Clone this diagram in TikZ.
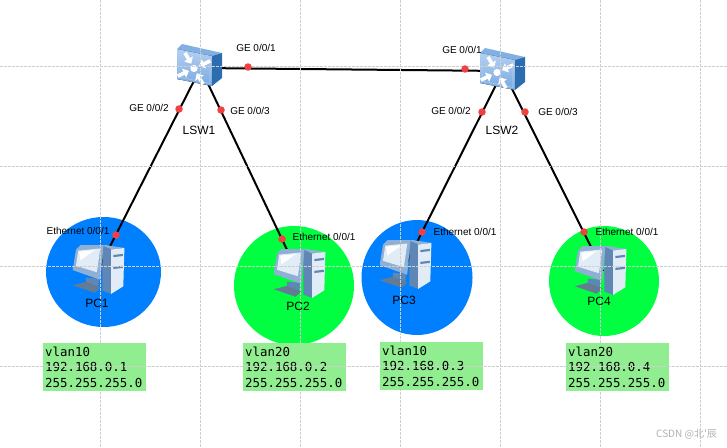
\documentclass[tikz,border=0pt]{standalone}
\usepackage{fontspec}
\setmainfont{Liberation Sans}
\newfontfamily\monof{DejaVu Sans Mono}
\newfontfamily\cjkf{Noto Sans CJK SC}
\usetikzlibrary{calc}
\definecolor{vblue}{HTML}{0080FF}
\definecolor{vgreen}{HTML}{00FF40}
\definecolor{boxg}{HTML}{90EE90}
\definecolor{gridc}{HTML}{CFCFCF}
\definecolor{dotr}{HTML}{F04040}
\definecolor{swfa}{HTML}{B4D0F2}
\definecolor{swfb}{HTML}{78A8E0}
\definecolor{swtop}{HTML}{80B0E6}
\definecolor{swside}{HTML}{2C6CB0}
\definecolor{pcdark}{HTML}{5F86B4}
\definecolor{pcmid}{HTML}{8FB0D4}
\definecolor{pclight}{HTML}{E2ECF6}
\tikzset{
  x=1pt,y=-1pt,
  gridline/.style={gridc,line width=0.8pt,dash pattern=on 3pt off 1pt},
  link/.style={black,line width=2pt},
  port/.style={circle,fill=dotr,inner sep=0pt,minimum size=7.5pt},
  lab/.style={font=\fontsize{10}{12}\selectfont,inner sep=0pt},
  devlab/.style={font=\fontsize{12}{14}\selectfont,inner sep=0pt},
  infobox/.style={fill=boxg,anchor=north west,minimum width=103pt,minimum height=48pt,inner sep=0pt,
     text width=99pt,align=left,font=\monof\fontsize{12.4}{15.5}\selectfont},
  anchorpt/.style={inner sep=0pt,minimum size=0pt},
  pics/swicon/.style={code={
    \fill[swtop] (-22,-19) -- (-17,-24) -- (23,-15) -- (13,-12) -- cycle;
    \fill[swside] (13,-12) -- (23,-15) -- (23,10) -- (13,18) -- cycle;
    \fill[top color=swfa,bottom color=swfb] (-22,-19) -- (13,-12) -- (13,18) -- (-22,11) -- cycle;
    \draw[swfb!60!white,line width=0.6pt] (-20,-16.5) -- (11,-10) -- (11,15.5) -- (-20,9) -- cycle;
    \fill[white] (-5,0.5) circle (3.6);
    \foreach \ang in {25,120,205,300}{
      \begin{scope}[shift={(-5,0.5)},rotate=\ang]
        \fill[white] (5.5,0) -- (11,-5) -- (11,-1.8) -- (18,-1.8) -- (18,1.8) -- (11,1.8) -- (11,5) -- cycle;
      \end{scope}}
  }},
  pics/pcicon/.style={code={
    % tower
    \fill[pcdark] (4,-22) -- (12,-18) -- (12,23) -- (4,20) -- cycle;
    \fill[pcmid] (4,-22) -- (8,-22) -- (24,-19.5) -- (12,-18) -- cycle;
    \fill[pclight] (12,-18) -- (24,-19.5) -- (23,16) -- (12,23) -- cycle;
    \fill[pcdark] (14,-13) -- (22.5,-14) -- (22.5,-12) -- (14,-11) -- cycle;
    \fill[pcdark] (14,-2) -- (22.5,-3) -- (22.5,-1) -- (14,0) -- cycle;
    % base
    \fill[pcdark] (-11,8) -- (1,9) -- (0,20) -- (-11,15) -- cycle;
    \fill[pcmid!70!black] (-23,15) -- (-11,12) -- (2,17) -- (-3,22) -- cycle;
    % monitor
    \fill[pcmid] (-20,-18) -- (-16,-22) -- (5,-22) -- (2,10) -- (-23,1) -- cycle;
    \fill[pclight] (-18,-17) -- (2,-19) -- (-1,3) -- (-20,-3) -- cycle;
    \fill[white] (-17,-16) -- (-3,-17.5) -- (-16,-8) -- cycle;
  }}
}
\begin{document}
\begin{tikzpicture}
\useasboundingbox (0,0) rectangle (727,447);
\fill[white] (0,0) rectangle (727,447);
% circles
\fill[vblue] (103.5,272) ellipse [x radius=57.5,y radius=55];
\fill[vgreen] (294,285.5) ellipse [x radius=60,y radius=59.5];
\fill[vblue] (417,277.5) ellipse [x radius=55.5,y radius=57.5];
\fill[vgreen] (604,281) ellipse [x radius=55,y radius=55];
% anchors of devices
\node[anchorpt] (sw1) at (200.5,68) {};
\node[anchorpt] (sw2) at (503,71) {};
\node[anchorpt] (pc1) at (98,270) {};
\node[anchorpt] (pc2) at (299,275) {};
\node[anchorpt] (pc3) at (405.5,265) {};
\node[anchorpt] (pc4) at (603,271) {};
% links
\draw[link] (sw1.center) -- (sw2.center);
\draw[link] (sw1.center) -- (pc1.center);
\draw[link] (sw1.center) -- (pc2.center);
\draw[link] (sw2.center) -- (pc3.center);
\draw[link] (sw2.center) -- (pc4.center);
% icons
\pic at (199,68) {swicon};
\pic at (502,72) {swicon};
\pic[xscale=1.1,yscale=1.08] at (98,269) {pcicon};
\pic[xscale=1.1,yscale=1.08] at (299,273) {pcicon};
\pic[xscale=1.1,yscale=1.08] at (405,264) {pcicon};
\pic[xscale=1.1,yscale=1.08] at (600,270) {pcicon};
% grid
\foreach \gx in {100,200,...,700} \draw[gridline] (\gx,0) -- (\gx,447);
\foreach \gy in {66,166,266,366} \draw[gridline] (0,\gy) -- (727,\gy);
% ports
\node[port] (p1) at (248,67) {};
\node[port] (p2) at (465,69) {};
\node[port] (p3) at (179,109) {};
\node[port] (p4) at (221,110) {};
\node[port] (p5) at (482,112) {};
\node[port] (p6) at (525,112) {};
\node[port] (p7) at (116,235) {};
\node[port] (p8) at (282,239) {};
\node[port] (p9) at (422,232) {};
\node[port] (p10) at (584,232) {};
% labels
\node[lab] (l1) at (256,48) {GE 0/0/1};
\node[lab] (l2) at (462,50) {GE 0/0/1};
\node[lab] (l3) at (149,108) {GE 0/0/2};
\node[lab] (l4) at (250,111) {GE 0/0/3};
\node[lab] (l5) at (451,111) {GE 0/0/2};
\node[lab] (l6) at (558,112) {GE 0/0/3};
\node[devlab] (s1) at (199,130) {LSW1};
\node[devlab] (s2) at (502,130) {LSW2};
\node[lab] (e1) at (78,231) {Ethernet 0/0/1};
\node[lab] (e2) at (324,237) {Ethernet 0/0/1};
\node[lab] (e3) at (465,232) {Ethernet 0/0/1};
\node[lab] (e4) at (627,232) {Ethernet 0/0/1};
\node[devlab] (n1) at (97,303) {PC1};
\node[devlab] (n2) at (298,306) {PC2};
\node[devlab] (n3) at (404,300) {PC3};
\node[devlab] (n4) at (599,301) {PC4};
% info boxes
\node[infobox] (b1) at (43,343) {vlan10\\192.168.0.1\\255.255.255.0\par\vspace{2pt}};
\node[infobox] (b2) at (243,343) {vlan20\\192.168.0.2\\255.255.255.0\par\vspace{2pt}};
\node[infobox] (b3) at (380,342) {vlan10\\192.168.0.3\\255.255.255.0\par\vspace{2pt}};
\node[infobox] (b4) at (566,343) {vlan20\\192.168.0.4\\255.255.255.0\par\vspace{2pt}};
\draw[gridline] (0,366) -- (727,366);
\node[font=\cjkf\fontsize{10}{12}\selectfont,text=gray!60,inner sep=0pt,anchor=east] (wm) at (717,434) {CSDN @北'辰};
\end{tikzpicture}
\end{document}
